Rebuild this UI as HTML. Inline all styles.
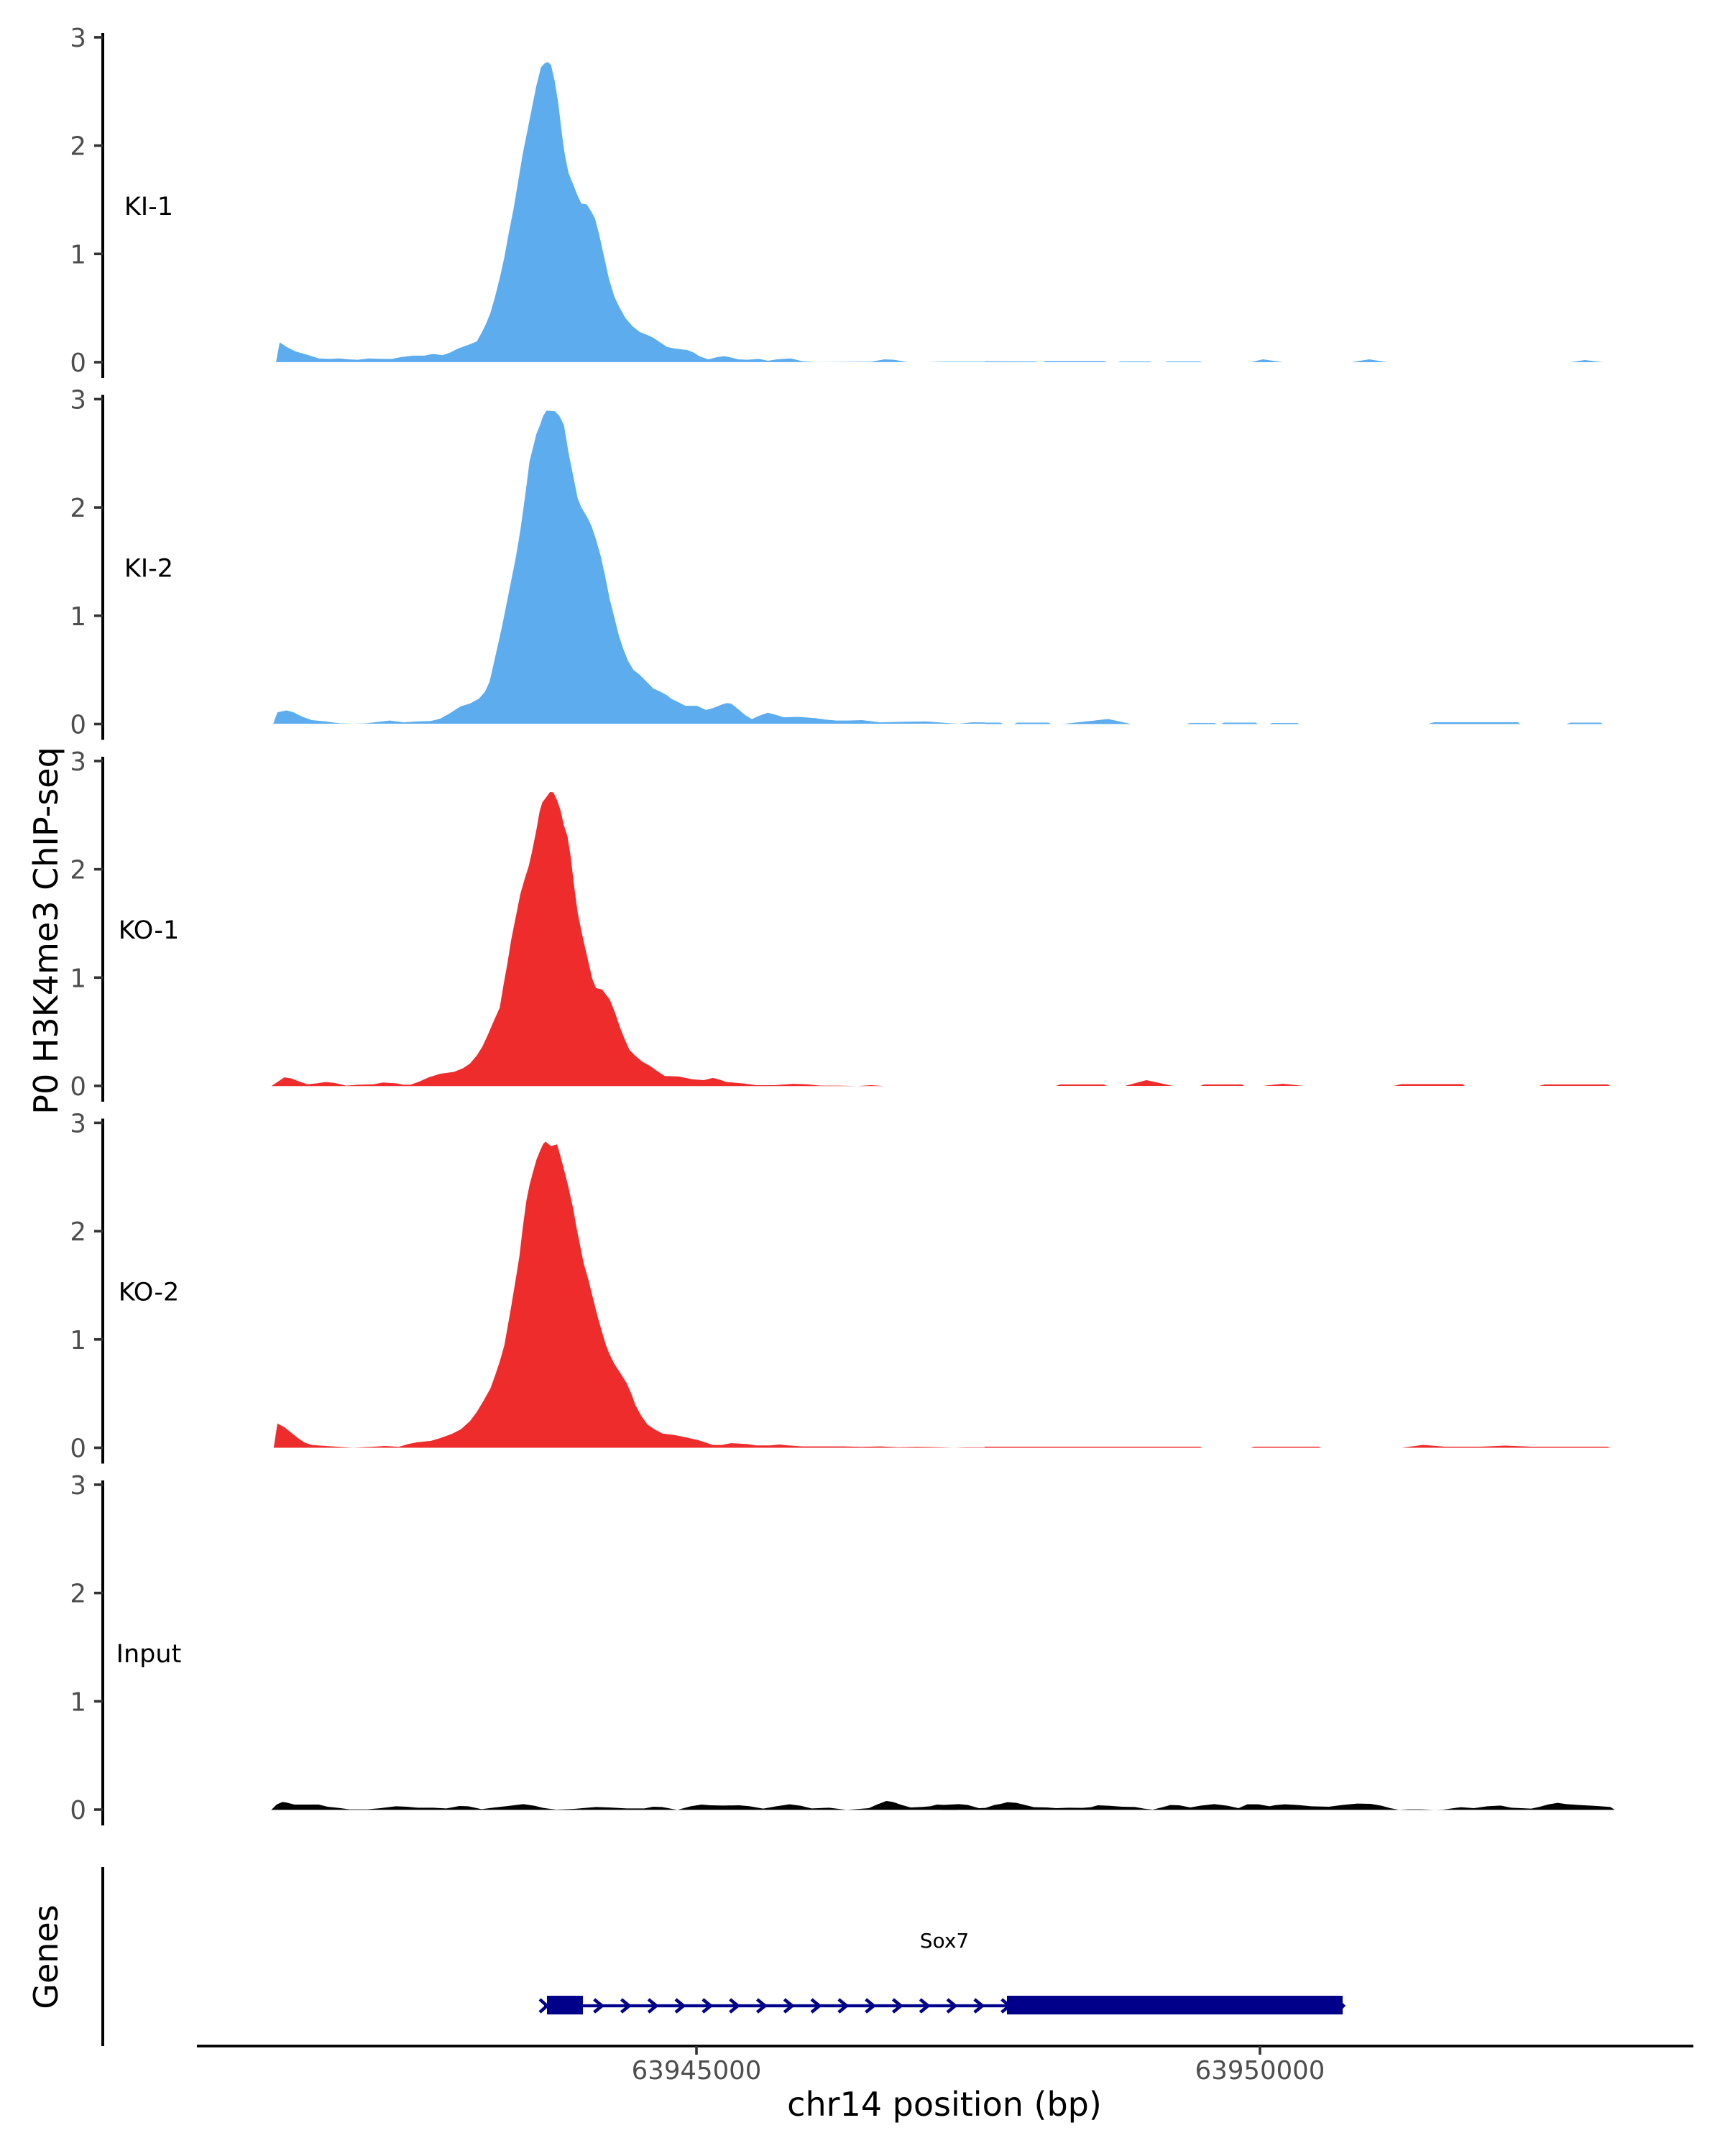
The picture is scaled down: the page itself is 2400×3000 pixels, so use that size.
<!DOCTYPE html>
<html><head><meta charset="utf-8"><style>
html,body{margin:0;padding:0;background:#fff;}
svg{display:block;}
text{font-family:"DejaVu Sans","Liberation Sans",sans-serif;}
</style></head><body>
<svg width="2400" height="3000" viewBox="0 0 2400 3000" xmlns="http://www.w3.org/2000/svg">
<rect width="2400" height="3000" fill="#fff"/>

<!-- Panels 1 & 2 traced -->
<g transform="translate(370,30) scale(0.63776)" fill="#5CACEE">
<path d="M22,743 L30,700 L45,710 L65,720 L90,727 L115,735 L140,736 L160,735 L180,737 L200,738 L225,735 L250,736 L275,736 L295,732 L320,729 L345,729 L365,725 L385,728 L400,723 L420,713 L440,706 L460,698 L470,680 L480,660 L490,635 L500,600 L510,560 L520,515 L530,460 L540,410 L550,350 L560,290 L570,240 L580,190 L590,140 L600,100 L607,92 L615,88 L622,95 L630,130 L638,180 L645,240 L652,290 L660,330 L670,355 L680,380 L688,397 L700,399 L710,415 L718,430 L727,465 L737,510 L748,560 L760,600 L772,625 L785,648 L800,665 L815,677 L830,683 L845,690 L860,700 L875,710 L890,713 L905,715 L920,717 L935,723 L945,730 L965,737 L985,732 L1000,730 L1015,733 L1030,737 L1050,738 L1075,736 L1095,740 L1115,737 L1145,735 L1170,741 L1200,743 L1320,742 L1350,737 L1370,738 L1400,743 L1440,743 L1480,742 L1568,742 L1568,743 Z"/>
<path d="M16,1532 L25,1507 L45,1503 L60,1507 L80,1517 L100,1524 L130,1527 L160,1531 L190,1532 L220,1531 L245,1528 L270,1525 L300,1529 L330,1527 L360,1526 L380,1521 L400,1510 L425,1494 L445,1488 L465,1477 L478,1462 L488,1440 L497,1400 L505,1365 L515,1320 L525,1270 L535,1220 L545,1170 L555,1110 L562,1060 L570,1000 L575,960 L580,940 L585,920 L590,900 L598,880 L605,860 L612,849 L630,850 L640,860 L650,880 L660,940 L670,990 L680,1040 L688,1060 L700,1080 L710,1100 L720,1130 L730,1165 L740,1210 L750,1260 L760,1300 L770,1340 L780,1370 L790,1395 L802,1415 L815,1425 L830,1440 L845,1455 L860,1462 L875,1470 L885,1478 L900,1485 L915,1493 L940,1493 L960,1502 L975,1498 L995,1490 L1005,1487 L1015,1488 L1030,1500 L1045,1513 L1060,1522 L1075,1515 L1095,1508 L1110,1512 L1130,1518 L1160,1517 L1200,1520 L1220,1523 L1245,1525 L1270,1525 L1300,1524 L1340,1529 L1380,1528 L1440,1527 L1480,1530 L1510,1532 L1540,1529 L1568,1529 L1568,1532 Z"/>
</g>
<g fill="#5CACEE">
<path d="M1370,504 L1370,502.8 L1440,503 L1445,504 Z M1450,504 L1455,502.5 L1536,502.5 L1540,504 Z M1555,504 L1560,503 L1600,503 L1603,504 Z M1620,504 L1625,503 L1670,503 L1672,504 Z M1740,504 L1757,500 L1785,504 Z M1880,504 L1905,500 L1930,504 Z M2185,504 L2205,501 L2230,504 Z"/>
<path d="M1370,1007.5 L1370,1005.5 L1392,1005.5 L1395,1007.5 Z M1411,1007.5 L1415,1005.5 L1459,1005.5 L1462,1007.5 Z M1478,1007.5 L1500,1005 L1542,1000.5 L1574,1007.5 Z M1651,1007.5 L1655,1006 L1690,1006 L1693,1007.5 Z M1699,1007.5 L1703,1005.5 L1747,1005.5 L1750,1007.5 Z M1766,1007.5 L1770,1006 L1805,1006 L1808,1007.5 Z M1987,1007.5 L1995,1005 L2112,1005 L2115,1007.5 Z M2179,1007.5 L2185,1005.5 L2227,1005.5 L2230,1007.5 Z"/>
</g>

<!-- Panels 3 & 4 traced -->
<g transform="translate(370,1040) scale(0.63776)" fill="#EE2C2C">
<path d="M12,739 L25,730 L40,720 L55,722 L70,728 L90,735 L110,733 L130,730 L150,732 L175,738 L200,736 L235,735 L255,731 L285,733 L300,736 L315,736 L335,729 L355,720 L380,712 L410,708 L430,700 L445,690 L460,672 L472,653 L485,625 L497,597 L510,568 L518,520 L527,470 L535,420 L545,370 L555,320 L565,285 L573,260 L580,230 L590,180 L597,140 L603,120 L612,108 L620,97 L627,98 L635,115 L642,135 L650,170 L658,195 L665,240 L672,300 L680,360 L688,400 L697,440 L705,475 L712,505 L720,525 L733,528 L750,550 L762,580 L772,610 L782,635 L793,660 L805,672 L820,685 L838,695 L852,705 L870,717 L900,718 L930,724 L955,726 L975,721 L990,725 L1005,730 L1040,733 L1070,737 L1110,737 L1150,734 L1180,735 L1210,738 L1250,738 L1290,739 L1320,737 L1350,739 Z"/>
<path d="M17,1528 L25,1475 L40,1483 L55,1495 L70,1507 L85,1517 L100,1522 L130,1524 L160,1526 L190,1528 L230,1526 L260,1524 L290,1526 L310,1520 L330,1516 L360,1513 L380,1507 L405,1498 L425,1488 L445,1470 L460,1450 L475,1425 L490,1398 L500,1370 L510,1340 L520,1305 L528,1260 L535,1220 L545,1160 L553,1110 L560,1050 L568,990 L575,955 L583,925 L590,900 L598,880 L605,865 L610,860 L622,870 L635,866 L642,890 L650,920 L660,960 L670,1005 L678,1050 L685,1085 L693,1125 L703,1160 L713,1200 L723,1240 L733,1275 L742,1305 L750,1325 L760,1345 L773,1365 L787,1387 L797,1410 L806,1435 L818,1457 L832,1477 L848,1488 L865,1497 L890,1500 L915,1505 L945,1512 L975,1522 L995,1522 L1015,1518 L1050,1520 L1070,1523 L1100,1523 L1120,1521 L1140,1523 L1170,1525 L1220,1525 L1260,1525 L1300,1526 L1340,1525 L1380,1527 L1420,1526 L1470,1527 L1500,1528 L1530,1527 L1568,1527 L1568,1528 Z"/>
</g>
<g fill="#EE2C2C">
<path d="M1469,1511 L1475,1509 L1536,1509 L1540,1511 Z M1565,1511 L1595,1503 L1632,1511 Z M1670,1511 L1675,1509 L1728,1509 L1731,1511 Z M1757,1511 L1785,1508 L1814,1511 Z M1939,1511 L1950,1508.5 L2035,1508.5 L2038,1511 Z M2141,1511 L2150,1509 L2237,1509 L2240,1511 Z"/>
<path d="M1370,2014.5 L1370,2013 L1670,2013 L1672,2014.5 Z M1740,2014.5 L1745,2013 L1835,2013 L1838,2014.5 Z M1950,2014.5 L1980,2010.5 L2010,2013 L2060,2013 L2095,2011.5 L2130,2013 L2237,2013 L2240,2014.5 Z"/>
</g>

<!-- Input -->
<g transform="translate(370,2440) scale(0.61224,0.33333)" fill="#000">
<path d="M12,235 L25,212 L38,202 L48,205 L65,213 L90,213 L120,213 L140,222 L165,227 L190,233 L230,233 L260,228 L295,220 L320,222 L345,226 L380,226 L410,229 L440,219 L460,220 L490,232 L520,225 L550,219 L585,211 L610,218 L630,227 L660,234 L700,231 L750,223 L780,225 L820,229 L860,229 L880,222 L900,223 L935,235 L965,220 L990,213 L1010,216 L1040,217 L1075,216 L1100,220 L1130,230 L1160,220 L1190,212 L1215,218 L1240,229 L1280,226 L1320,235 L1370,228 L1390,212 L1410,198 L1425,202 L1445,215 L1465,225 L1490,223 L1510,220 L1525,213 L1545,215 L1570,213 L1570,235 Z"/>
</g>
<g transform="translate(1310,2440) scale(0.61224,0.33333)" fill="#000">
<path d="M0,235 L0,215 L40,211 L60,215 L85,228 L100,227 L120,215 L135,210 L150,203 L170,206 L190,215 L210,224 L240,225 L260,228 L290,226 L320,227 L340,224 L355,216 L380,218 L410,222 L440,223 L460,230 L480,234 L500,225 L520,215 L540,216 L565,225 L590,217 L620,211 L650,218 L675,228 L695,212 L720,212 L745,220 L760,215 L780,212 L810,215 L840,220 L880,222 L910,215 L945,209 L975,210 L1000,218 L1020,228 L1040,235 L1060,233 L1090,233 L1120,235 L1140,234 L1180,224 L1210,228 L1240,220 L1270,217 L1295,226 L1340,230 L1360,222 L1380,212 L1400,206 L1420,211 L1450,215 L1490,219 L1520,223 L1530,235 Z"/>
</g>

<!-- Y axes -->
<g stroke="#000" stroke-width="4">
<line x1="143" y1="46" x2="143" y2="526"/>
<line x1="143" y1="549.5" x2="143" y2="1029.5"/>
<line x1="143" y1="1053" x2="143" y2="1533"/>
<line x1="143" y1="1556.5" x2="143" y2="2036.5"/>
<line x1="143" y1="2060" x2="143" y2="2540"/>
<line x1="143" y1="2598" x2="143" y2="2847"/>
</g>
<g stroke="#333" stroke-width="3.6">
<line x1="131" y1="504" x2="143" y2="504"/><line x1="131" y1="353.3" x2="143" y2="353.3"/><line x1="131" y1="202.6" x2="143" y2="202.6"/><line x1="131" y1="51.9" x2="143" y2="51.9"/>
<line x1="131" y1="1007.5" x2="143" y2="1007.5"/><line x1="131" y1="856.8" x2="143" y2="856.8"/><line x1="131" y1="706.1" x2="143" y2="706.1"/><line x1="131" y1="555.4" x2="143" y2="555.4"/>
<line x1="131" y1="1511" x2="143" y2="1511"/><line x1="131" y1="1360.3" x2="143" y2="1360.3"/><line x1="131" y1="1209.6" x2="143" y2="1209.6"/><line x1="131" y1="1058.9" x2="143" y2="1058.9"/>
<line x1="131" y1="2014.5" x2="143" y2="2014.5"/><line x1="131" y1="1863.8" x2="143" y2="1863.8"/><line x1="131" y1="1713.1" x2="143" y2="1713.1"/><line x1="131" y1="1562.4" x2="143" y2="1562.4"/>
<line x1="131" y1="2518" x2="143" y2="2518"/><line x1="131" y1="2367.3" x2="143" y2="2367.3"/><line x1="131" y1="2216.6" x2="143" y2="2216.6"/><line x1="131" y1="2065.9" x2="143" y2="2065.9"/>
</g>
<g font-size="35.5" fill="#4D4D4D" text-anchor="end">
<text x="120" y="517">0</text><text x="120" y="366.3">1</text><text x="120" y="215.6">2</text><text x="120" y="64.9">3</text>
<text x="120" y="1020.5">0</text><text x="120" y="869.8">1</text><text x="120" y="719.1">2</text><text x="120" y="568.4">3</text>
<text x="120" y="1524">0</text><text x="120" y="1373.3">1</text><text x="120" y="1222.6">2</text><text x="120" y="1071.9">3</text>
<text x="120" y="2027.5">0</text><text x="120" y="1876.8">1</text><text x="120" y="1726.1">2</text><text x="120" y="1575.4">3</text>
<text x="120" y="2531">0</text><text x="120" y="2380.3">1</text><text x="120" y="2229.6">2</text><text x="120" y="2078.9">3</text>
</g>

<!-- Sample labels -->
<g font-size="35" fill="#000" text-anchor="middle">
<text x="207" y="299">KI-1</text>
<text x="207" y="802.5">KI-2</text>
<text x="207" y="1306">KO-1</text>
<text x="207" y="1809.5">KO-2</text>
<text x="207" y="2313">Input</text>
</g>

<!-- Y titles -->
<text transform="translate(80,1295) rotate(-90)" font-size="46" text-anchor="middle" fill="#000">P0 H3K4me3 ChIP-seq</text>
<text transform="translate(80,2723) rotate(-90)" font-size="46" text-anchor="middle" fill="#000">Genes</text>

<!-- Gene model -->
<text x="1314" y="2710" font-size="28" text-anchor="middle" fill="#000">Sox7</text>
<line x1="757" y1="2791" x2="1868" y2="2791" stroke="#00008B" stroke-width="4.2"/>
<g fill="none" stroke="#00008B" stroke-width="4.5" stroke-linejoin="miter">
<polyline points="751,2782 761,2791 751,2800"/>
<polyline points="826.6,2782 837.6,2791 826.6,2800"/>
<polyline points="864.4,2782 875.4,2791 864.4,2800"/>
<polyline points="902.2,2782 913.2,2791 902.2,2800"/>
<polyline points="940,2782 951,2791 940,2800"/>
<polyline points="977.8,2782 988.8,2791 977.8,2800"/>
<polyline points="1015.6,2782 1026.6,2791 1015.6,2800"/>
<polyline points="1053.4,2782 1064.4,2791 1053.4,2800"/>
<polyline points="1091.2,2782 1102.2,2791 1091.2,2800"/>
<polyline points="1129,2782 1140,2791 1129,2800"/>
<polyline points="1166.8,2782 1177.8,2791 1166.8,2800"/>
<polyline points="1204.6,2782 1215.6,2791 1204.6,2800"/>
<polyline points="1242.4,2782 1253.4,2791 1242.4,2800"/>
<polyline points="1280.2,2782 1291.2,2791 1280.2,2800"/>
<polyline points="1318,2782 1329,2791 1318,2800"/>
<polyline points="1355.8,2782 1366.8,2791 1355.8,2800"/>
<polyline points="1393.6,2782 1404.6,2791 1393.6,2800"/>
<polyline points="1862,2784 1869,2791 1862,2798"/>
</g>
<rect x="761" y="2777" width="50" height="26" fill="#00008B"/>
<rect x="1401" y="2777" width="467" height="26" fill="#00008B"/>

<!-- X axis -->
<line x1="274" y1="2847" x2="2356" y2="2847" stroke="#000" stroke-width="3.8"/>
<line x1="969" y1="2847" x2="969" y2="2859" stroke="#333" stroke-width="3.6"/>
<line x1="1753" y1="2847" x2="1753" y2="2859" stroke="#333" stroke-width="3.6"/>
<text x="969" y="2893" font-size="35.5" fill="#4D4D4D" text-anchor="middle">63945000</text>
<text x="1753" y="2893" font-size="35.5" fill="#4D4D4D" text-anchor="middle">63950000</text>
<text x="1314" y="2944" font-size="46" fill="#000" text-anchor="middle">chr14 position (bp)</text>
</svg>
</body></html>
